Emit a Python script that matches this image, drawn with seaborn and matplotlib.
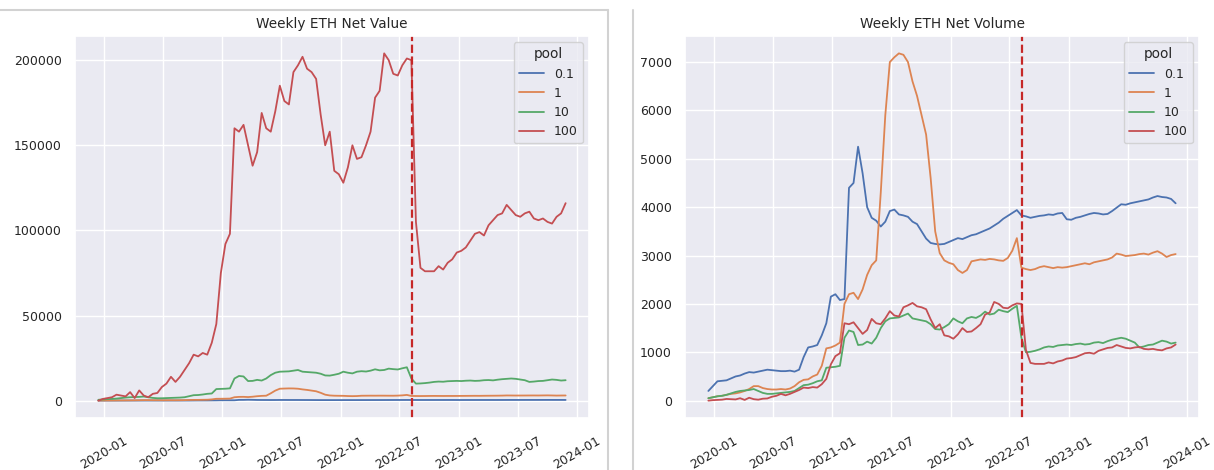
import pandas as pd
import seaborn as sns
import matplotlib.pyplot as plt
import matplotlib.dates as mdates
from matplotlib.lines import Line2D
from matplotlib.ticker import MultipleLocator

# Semanas (a cada 14 dias) desde o lançamento dos pools
inicio = "2019-12-15"
data_sancao = "2022-08-08"
pools = ["0.1", "1", "10", "100"]

# Volume líquido (ETH), um valor por ponto
vol_01 = [200, 300, 400, 410, 420, 460, 500, 520, 560, 590,
          580, 600, 620, 640, 630, 620, 610, 610, 620, 600,
          640, 900, 1100, 1120, 1150, 1350, 1600, 2150, 2200, 2080,
          2100, 4400, 4500, 5250, 4700, 4000, 3780, 3720, 3600, 3700,
          3920, 3950, 3850, 3830, 3800, 3700, 3650, 3500, 3350, 3260,
          3240, 3230, 3240, 3280, 3320, 3360, 3340, 3380, 3420, 3440,
          3480, 3520, 3560, 3620, 3680, 3760, 3820, 3880, 3940, 3830,
          3810, 3780, 3800, 3820, 3830, 3850, 3840, 3870, 3880, 3750,
          3740, 3780, 3800, 3830, 3860, 3880, 3870, 3850, 3860, 3920,
          3990, 4060, 4050, 4080, 4100, 4120, 4140, 4160, 4200, 4230,
          4210, 4200, 4170, 4080]
vol_1 = [50, 70, 90, 100, 120, 140, 150, 170, 200, 240,
         300, 300, 260, 240, 230, 230, 240, 230, 250, 300,
         380, 430, 440, 500, 540, 720, 1080, 1100, 1140, 1200,
         2000, 2200, 2230, 2100, 2300, 2600, 2800, 2900, 4300, 5900,
         7000, 7100, 7180, 7150, 7000, 6600, 6300, 5900, 5500, 4600,
         3500, 3050, 2900, 2850, 2820, 2700, 2640, 2700, 2880, 2900,
         2920, 2910, 2930, 2920, 2900, 2890, 2950, 3100, 3360, 2750,
         2720, 2700, 2720, 2760, 2780, 2760, 2740, 2760, 2750, 2760,
         2780, 2800, 2820, 2840, 2820, 2860, 2880, 2900, 2920, 2960,
         3040, 3020, 2990, 3000, 3010, 3030, 3040, 3020, 3060, 3090,
         3040, 2970, 3010, 3030]
vol_10 = [50, 70, 90, 100, 120, 150, 180, 200, 210, 220,
          240, 200, 160, 140, 140, 150, 160, 170, 180, 200,
          260, 320, 330, 360, 400, 420, 680, 690, 700, 720,
          1300, 1450, 1420, 1150, 1160, 1220, 1180, 1300, 1500, 1640,
          1700, 1710, 1720, 1760, 1800, 1700, 1680, 1660, 1640, 1580,
          1480, 1470, 1520, 1580, 1700, 1640, 1600, 1700, 1730, 1710,
          1760, 1840, 1780, 1800, 1880, 1850, 1830, 1900, 1960, 1300,
          1000, 1010, 1030, 1060, 1100, 1120, 1110, 1140, 1150, 1160,
          1150, 1170, 1180, 1160, 1170, 1200, 1210, 1190, 1230, 1260,
          1280, 1300, 1280, 1240, 1200, 1100, 1120, 1150, 1160, 1200,
          1240, 1220, 1180, 1200]
vol_100 = [0, 10, 15, 20, 35, 30, 25, 50, 15, 60,
           30, 20, 40, 45, 80, 100, 140, 110, 140, 180,
           220, 270, 260, 280, 270, 340, 450, 750, 920, 980,
           1600, 1580, 1620, 1500, 1380, 1460, 1690, 1600, 1580, 1700,
           1850, 1760, 1740, 1930, 1970, 2020, 1950, 1930, 1890, 1680,
           1500, 1580, 1350, 1330, 1280, 1370, 1500, 1420, 1430, 1500,
           1580, 1780, 1820, 2040, 2000, 1920, 1910, 1970, 2010, 2000,
           1050, 780, 760, 760, 760, 790, 770, 810, 830, 870,
           880, 900, 940, 980, 990, 970, 1030, 1060, 1090, 1100,
           1150, 1120, 1090, 1080, 1100, 1110, 1070, 1060, 1070, 1050,
           1040, 1080, 1100, 1160]


def main():
    sns.set_theme(style="darkgrid", font_scale=0.82)
    tabela = montar()
    fig = plt.figure(figsize=(12.14, 4.70), dpi=100)
    ax1 = fig.add_axes([75 / 1214, 52 / 470, 514 / 1214, 382 / 470])
    ax2 = fig.add_axes([685 / 1214, 52 / 470, 514 / 1214, 382 / 470])
    grafico(ax1, tabela, "valor", "Weekly ETH Net Value")
    ax1.yaxis.set_major_locator(MultipleLocator(50000))
    grafico(ax2, tabela, "volume", "Weekly ETH Net Volume")

    # bordas cinzas das duas capturas de tela
    cinza = "#d2d2d2"
    fig.add_artist(Line2D([0, 608 / 1214], [460 / 470, 460 / 470], color=cinza, lw=1.5))
    fig.add_artist(Line2D([608 / 1214, 608 / 1214], [0, 460 / 470], color=cinza, lw=1.5))
    fig.add_artist(Line2D([633 / 1214, 633 / 1214], [0, 460 / 470], color=cinza, lw=1.5))
    fig.savefig("out.png", dpi=100)


# Monta a tabela longa: volume por pool e valor = volume * tamanho do pool
def montar():
    datas = pd.date_range(inicio, periods=len(vol_01), freq="14D")
    partes = []
    for pool, vol in zip(pools, [vol_01, vol_1, vol_10, vol_100]):
        parte = pd.DataFrame({"date": datas, "pool": pool, "volume": vol})
        parte["valor"] = parte["volume"] * float(pool)
        partes.append(parte)
    return pd.concat(partes, ignore_index=True)


def grafico(ax, tabela, coluna, titulo):
    sns.lineplot(data=tabela, x="date", y=coluna, hue="pool", hue_order=pools,
                 palette="deep", linewidth=1.3, ax=ax)
    ax.axvline(pd.Timestamp(data_sancao), color="#c62828", linestyle="--", linewidth=1.6)
    ax.set_title(titulo)
    ax.set_xlabel("")
    ax.set_ylabel("")
    ax.xaxis.set_major_locator(mdates.MonthLocator(bymonth=[1, 7]))
    ax.xaxis.set_major_formatter(mdates.DateFormatter("%Y-%m"))
    ax.tick_params(axis="x", labelrotation=30, pad=6)
    ax.legend(title="pool", loc="upper right")


if __name__ == "__main__":
    main()
